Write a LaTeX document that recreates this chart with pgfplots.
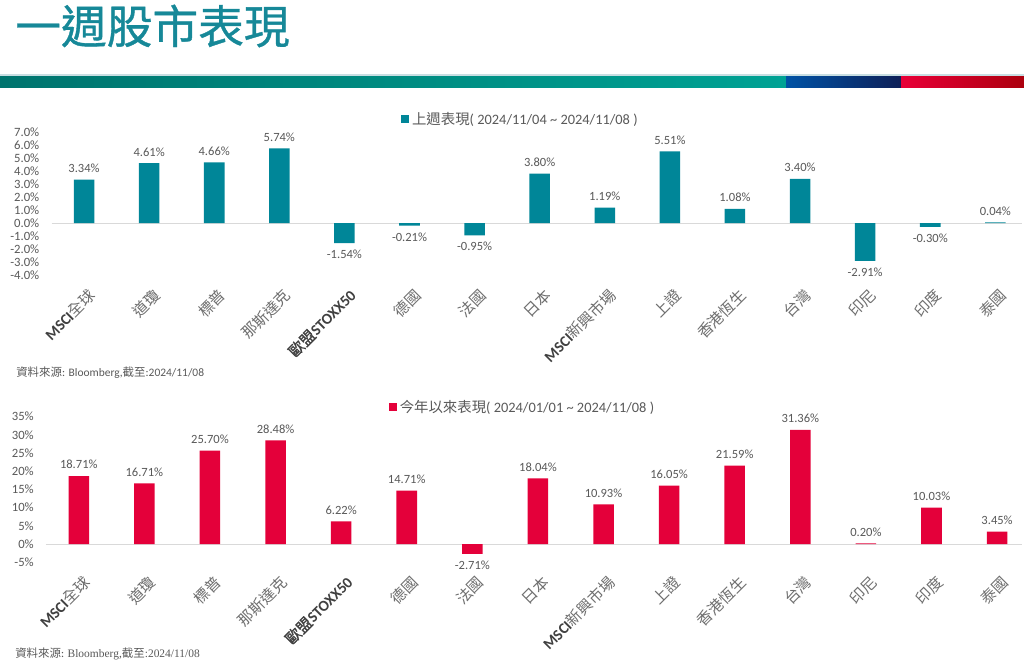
\documentclass[border=0pt]{standalone}
\usepackage{pgfplots}
\pgfplotsset{compat=1.18}
\usepackage{fontspec}
\setmainfont{Carlito}
\newfontfamily\cjk{Noto Sans CJK TC}
\newfontfamily\cjkb[FakeBold=1.2]{Noto Sans CJK TC}
\newfontfamily\cjkt[FakeBold=0.8]{Noto Sans CJK TC}
\newfontfamily\serifl{Liberation Serif}
\definecolor{barteal}{RGB}{0,134,152}
\definecolor{barred}{RGB}{228,0,58}
\definecolor{txtgray}{RGB}{89,89,89}
\definecolor{lblgray}{RGB}{110,110,110}
\definecolor{titleteal}{RGB}{22,136,152}
\definecolor{zeroline}{RGB}{217,217,217}
\definecolor{tealL}{RGB}{0,116,110}
\definecolor{tealR}{RGB}{0,162,148}
\definecolor{blueL}{RGB}{0,82,165}
\definecolor{blueR}{RGB}{14,32,88}
\definecolor{redL}{RGB}{232,0,56}
\definecolor{redR}{RGB}{172,0,14}
\definecolor{thinline}{RGB}{200,222,226}

\pgfplotstableread{
x y
0 3.34
1 4.61
2 4.66
3 5.74
4 -1.54
5 -0.21
6 -0.95
7 3.80
8 1.19
9 5.51
10 1.08
11 3.40
12 -2.91
13 -0.30
14 0.04
}\weekdata

\pgfplotstableread{
x y
0 18.71
1 16.71
2 25.70
3 28.48
4 6.22
5 14.71
6 -2.71
7 18.04
8 10.93
9 16.05
10 21.59
11 31.36
12 0.20
13 10.03
14 3.45
}\ytddata

\pgfplotsset{
  mychart/.style={
    scale only axis,
    anchor=south west,
    xmin=-0.5,
    axis line style={draw=none},
    xtick={0,...,14},
    xticklabels={
      {\textbf{\color{darkgray}MSCI}{\cjk 全球}},
      {\cjk 道瓊},
      {\cjk 標普},
      {\cjk 那斯達克},
      {{\cjkb\color{darkgray}歐盟}\textbf{\color{darkgray}STOXX50}},
      {\cjk 德國},
      {\cjk 法國},
      {\cjk 日本},
      {\textbf{\color{darkgray}MSCI}{\cjk 新興市場}},
      {\cjk 上證},
      {\cjk 香港恆生},
      {\cjk 台灣},
      {\cjk 印尼},
      {\cjk 印度},
      {\cjk 泰國}},
    major tick length=0pt,
    tick label style={text=txtgray, font=\fontsize{9.5}{11}\selectfont},
    yticklabel style={inner sep=0pt, anchor=east, xshift=-9pt},
    xticklabel style={yshift=-9pt, xshift=2.5pt, rotate=45, anchor=north east, inner sep=0pt, text=lblgray, font=\fontsize{11.5}{13}\selectfont},
    ybar, bar width=15.4pt,
    point meta=y,
    nodes near coords={\pgfmathprintnumber[fixed,fixed zerofill,precision=2,assume math mode=true]{\pgfplotspointmeta}\%},
    every node near coord/.append style={text=txtgray, font=\fontsize{9.4}{11}\selectfont, inner sep=5pt},
    clip=false,
    legend image code/.code={\fill[##1] (0pt,-3.1pt) rectangle (6.2pt,3.1pt);},
  }
}

\begin{document}
\begin{tikzpicture}
\begin{scope}[x=0.75pt,y=-0.75pt]
\path[use as bounding box, fill=white] (0,0) rectangle (1024,662);
\node[anchor=west, inner sep=0pt, text=titleteal, font=\cjkt\fontsize{34.3}{38}\selectfont] at (15,26) {一週股市表現};
\fill[thinline] (0,74) rectangle (1024,76);
\shade[left color=tealL, right color=tealR] (0,76) rectangle (786,87);
\shade[left color=blueL, right color=blueR] (786,76) rectangle (901,87);
\shade[left color=redL, right color=redR] (901,76) rectangle (1024,87);
\node[anchor=west, inner sep=0pt, text=txtgray, font=\fontsize{8.6}{11}\selectfont] at (16,373) {{\cjk 資料來源}: Bloomberg,{\cjk 截至}:2024/11/08};
\node[anchor=west, inner sep=0pt, text=txtgray, font=\fontsize{8.6}{11}\selectfont] at (15,654) {{\cjk 資料來源}: {\serifl Bloomberg,}{\cjk 截至}{\serifl :2024/11/08}};
\end{scope}

\begin{axis}[mychart,
  at={(38.625pt,-206.25pt)},
  width=727.9pt, height=107.25pt,
  xmax=14.41, ymin=-4, ymax=7,
  ytick={-4,-3,...,7},
  yticklabel={\pgfmathprintnumber[fixed,fixed zerofill,precision=1,assume math mode=true]{\tick}\%},
  legend style={at={(0.360,1.091)}, anchor=west, draw=none, fill=none, inner sep=0pt, font=\fontsize{10.8}{12}\selectfont},
]
\draw[zeroline, line width=0.75pt] (axis cs:-0.5,0) -- (axis cs:14.41,0);
\addplot[fill=barteal, draw=none] table[x=x, y=y] {\weekdata};
\addlegendentry{\textcolor{txtgray}{{\cjk 上週表現}( 2024/11/04 \textasciitilde{} 2024/11/08 )}}
\end{axis}

\begin{axis}[mychart,
  at={(34.5pt,-421.725pt)},
  width=732pt, height=109.2pt,
  xmax=14.38, ymin=-5, ymax=35,
  ytick={-5,0,...,35},
  yticklabel={\pgfmathprintnumber[assume math mode=true]{\tick}\%},
  legend style={at={(0.351,1.067)}, anchor=west, draw=none, fill=none, inner sep=0pt, font=\fontsize{10.8}{12}\selectfont},
]
\draw[zeroline, line width=0.75pt] (axis cs:-0.5,0) -- (axis cs:14.38,0);
\addplot[fill=barred, draw=none] table[x=x, y=y] {\ytddata};
\addlegendentry{\textcolor{txtgray}{{\cjk 今年以來表現}( 2024/01/01 \textasciitilde{} 2024/11/08 )}}
\end{axis}
\end{tikzpicture}
\end{document}
